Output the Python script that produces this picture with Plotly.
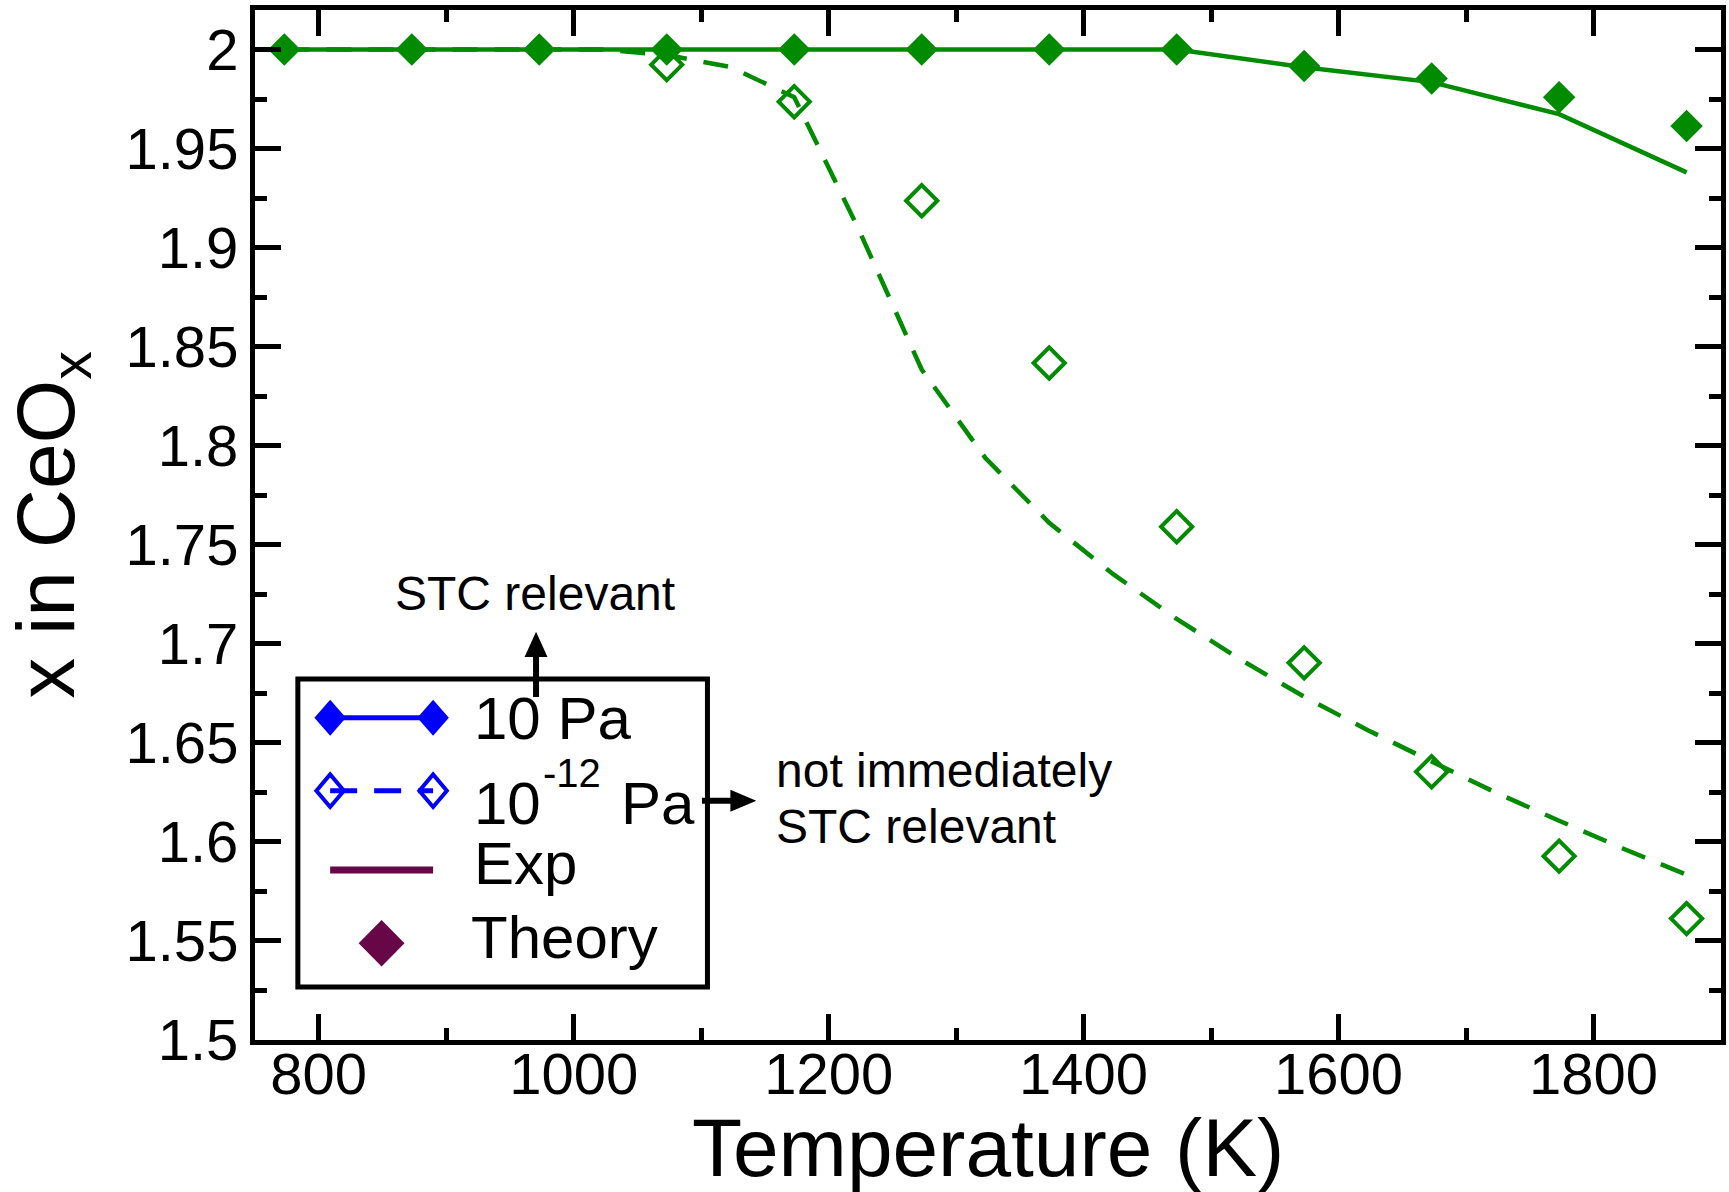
import plotly.graph_objects as go

# ---------------- data ----------------
T_theory = [773, 873, 973, 1073, 1173, 1273, 1373, 1473, 1573, 1673, 1773, 1873]
x_theory_10Pa = [2.000, 2.000, 2.000, 2.000, 2.000, 2.000, 2.000, 2.000, 1.9917, 1.9854, 1.9759, 1.9615]
x_theory_1e12Pa = [None, None, None, 1.9924, 1.9737, 1.9237, 1.8418, 1.7591, 1.6904, 1.6354, 1.5928, 1.5613]

T_exp_10Pa = [773, 873, 973, 1073, 1173, 1273, 1373, 1473, 1573, 1673, 1773, 1873]
x_exp_10Pa = [2.000, 2.000, 2.000, 2.000, 2.000, 2.000, 2.000, 2.000, 1.9911, 1.9836, 1.9674, 1.9380]

T_exp_1e12Pa = [773, 823, 873, 923, 973, 1023, 1073, 1123, 1173, 1223, 1273, 1323,
                1373, 1423, 1473, 1523, 1573, 1623, 1673, 1723, 1773, 1823, 1873]
x_exp_1e12Pa = [2.000, 2.000, 2.000, 2.000, 2.000, 2.000, 1.9973, 1.9912, 1.9760, 1.9100, 1.8385, 1.7938,
                1.7611, 1.7353, 1.7126, 1.6921, 1.6733, 1.6564, 1.6406, 1.6250, 1.6107, 1.5967, 1.5834]

x_tick_vals = [800, 1000, 1200, 1400, 1600, 1800]
x_tick_text = ["800", "1000", "1200", "1400", "1600", "1800"]
y_tick_vals = [1.5, 1.55, 1.6, 1.65, 1.7, 1.75, 1.8, 1.85, 1.9, 1.95, 2.0]
y_tick_text = ["1.5", "1.55", "1.6", "1.65", "1.7", "1.75", "1.8", "1.85", "1.9", "1.95", "2"]

x_title = "Temperature (K)"
y_title = "x in CeO<sub>x</sub>"
legend_labels = ["10 Pa", "10", "-12", "Pa", "Exp", "Theory"]
note_up = "STC relevant"
note_right = ["not immediately", "STC relevant"]

# ---------------- styles / geometry ----------------
FONT = "Liberation Sans, Arial, Helvetica, sans-serif"
GREEN = "rgb(0,139,0)"
BLUE = "rgb(0,0,255)"
MAROON = "rgb(103,7,72)"
W, H = 1729, 1192
ML, MR, MT, MB = 255, 3, 10, 152
PW = W - ML - MR
PH = H - MT - MB


def px(x):
    return (x - ML) / PW


def py(y):
    return (H - MB - y) / PH


def diamond(cx, cy, hw, hh):
    return (f"M {px(cx - hw)},{py(cy)} L {px(cx)},{py(cy - hh)} "
            f"L {px(cx + hw)},{py(cy)} L {px(cx)},{py(cy + hh)} Z")


fig = go.Figure()
fig.add_trace(go.Scatter(x=T_exp_10Pa, y=x_exp_10Pa, mode="lines",
                         line=dict(color=GREEN, width=4.5), showlegend=False))
fig.add_trace(go.Scatter(x=T_exp_1e12Pa, y=x_exp_1e12Pa, mode="lines",
                         line=dict(color=GREEN, width=4.5, dash="25px,17px"), showlegend=False))
fig.add_trace(go.Scatter(x=T_theory, y=x_theory_10Pa, mode="markers",
                         marker=dict(symbol="diamond", size=25, color=GREEN, line=dict(width=0)),
                         showlegend=False))
fig.add_trace(go.Scatter(x=T_theory, y=x_theory_1e12Pa, mode="markers",
                         marker=dict(symbol="diamond-open", size=24, color=GREEN,
                                     line=dict(width=4, color=GREEN)),
                         showlegend=False))

axis_common = dict(
    ticks="inside", ticklen=26, tickwidth=4.5, tickcolor="black",
    showline=True, linewidth=5, linecolor="black", mirror="ticks",
    showgrid=False, zeroline=False,
    tickfont=dict(size=58, family=FONT, color="black"),
)
fig.update_xaxes(range=[750, 1900], tickmode="array", tickvals=x_tick_vals, ticktext=x_tick_text,
                 ticklabelstandoff=-21,
                 minor=dict(ticks="inside", ticklen=12, tickwidth=4.5, tickcolor="black",
                            tick0=700, dtick=100, showgrid=False),
                 **axis_common)
fig.update_yaxes(range=[1.5, 2.02], tickmode="array", tickvals=y_tick_vals, ticktext=y_tick_text,
                 minor=dict(ticks="inside", ticklen=12, tickwidth=4.5, tickcolor="black",
                            tick0=1.5, dtick=0.025, showgrid=False),
                 **axis_common)

shapes = []
# legend box
shapes.append(dict(type="rect", xref="paper", yref="paper", x0=px(298), x1=px(709), y0=py(987), y1=py(679),
                   line=dict(color="black", width=5), fillcolor="white", layer="above"))
# row 1: solid blue line with filled diamonds
shapes.append(dict(type="line", xref="paper", yref="paper", x0=px(330.4), x1=px(433.7), y0=py(717.7), y1=py(717.7),
                   line=dict(color=BLUE, width=5)))
for cx in (330.4, 433.7):
    shapes.append(dict(type="path", xref="paper", yref="paper", path=diamond(cx, 717.7, 15.8, 18),
                       fillcolor=BLUE, line=dict(color=BLUE, width=0)))
# row 2: dashed blue line with open diamonds
shapes.append(dict(type="line", xref="paper", yref="paper", x0=px(330.4), x1=px(433.7), y0=py(790.7), y1=py(790.7),
                   line=dict(color=BLUE, width=5, dash="27px,17px")))
for cx in (330.4, 433.7):
    shapes.append(dict(type="path", xref="paper", yref="paper", path=diamond(cx, 790.7, 13.8, 16.3),
                       fillcolor="rgba(0,0,0,0)", line=dict(color=BLUE, width=4)))
# row 3: maroon line
shapes.append(dict(type="line", xref="paper", yref="paper", x0=px(330.4), x1=px(433.7), y0=py(870), y1=py(870),
                   line=dict(color=MAROON, width=7)))
# row 4: maroon diamond
shapes.append(dict(type="path", xref="paper", yref="paper", path=diamond(382, 943.3, 23, 23.3),
                   fillcolor=MAROON, line=dict(color=MAROON, width=0)))
# up arrow
shapes.append(dict(type="line", xref="paper", yref="paper", x0=px(537), x1=px(537), y0=py(697), y1=py(652),
                   line=dict(color="black", width=6)))
shapes.append(dict(type="path", xref="paper", yref="paper",
                   path=f"M {px(537)},{py(631.7)} L {px(548.5)},{py(657)} L {px(525.5)},{py(657)} Z",
                   fillcolor="black", line=dict(color="black", width=0)))
# right arrow
shapes.append(dict(type="line", xref="paper", yref="paper", x0=px(703.5), x1=px(737), y0=py(800.7), y1=py(800.7),
                   line=dict(color="black", width=6)))
shapes.append(dict(type="path", xref="paper", yref="paper",
                   path=f"M {px(758)},{py(800.7)} L {px(732)},{py(789.7)} L {px(732)},{py(811.7)} Z",
                   fillcolor="black", line=dict(color="black", width=0)))


def ann(text, x, y, size, xanchor="left", yanchor="middle", textangle=0):
    return dict(text=text, x=px(x), y=py(y), xref="paper", yref="paper", showarrow=False,
                xanchor=xanchor, yanchor=yanchor, textangle=textangle,
                font=dict(size=size, family=FONT, color="black"))


annotations = [
    ann(x_title, 991, 1147, 82, xanchor="center"),
    ann(y_title, 50, 525, 82, xanchor="center", textangle=-90),
    ann(legend_labels[0], 473, 718.4, 60),
    ann(legend_labels[1], 473, 803.4, 60),
    ann(legend_labels[2], 542, 772.7, 40),
    ann(legend_labels[3], 620, 803.4, 60),
    ann(legend_labels[4], 473, 863.4, 60),
    ann(legend_labels[5], 470, 937.7, 60),
    ann(note_up, 536, 593, 48, xanchor="center"),
    ann(note_right[0], 776, 771, 48),
    ann(note_right[1], 776, 826, 48),
]

fig.update_layout(
    width=W, height=H,
    margin=dict(l=ML, r=MR, t=MT, b=MB),
    paper_bgcolor="white", plot_bgcolor="white",
    showlegend=False,
    shapes=shapes,
    annotations=annotations,
    font=dict(family=FONT, color="black"),
)

fig.write_html("out.html")
